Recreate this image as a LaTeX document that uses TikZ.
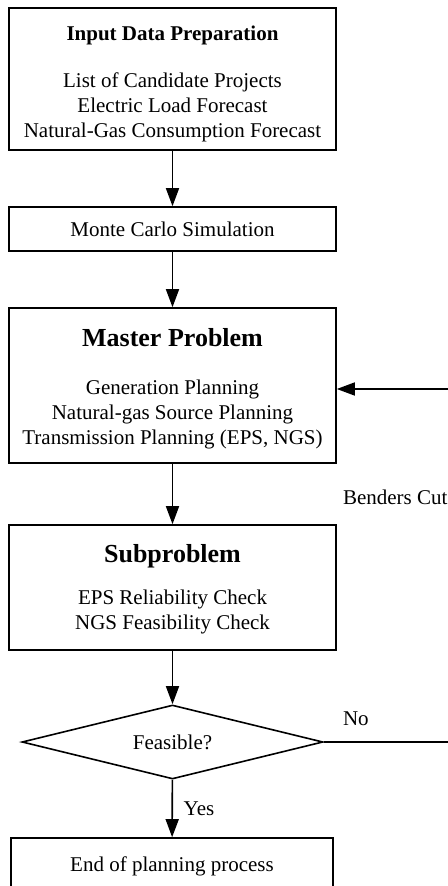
\documentclass[tikz,border=0pt]{standalone}
\usepackage{fontspec}
\setmainfont{Liberation Serif}
\usetikzlibrary{shapes.geometric,arrows.meta}
\newcommand{\boxtitle}[3]{\rule{0pt}{#2}\textbf{#1}\\[#3]}
\newcommand{\bigtitle}[3]{\rule{0pt}{#2}{\fontsize{13}{15}\selectfont\textbf{#1}}\\[#3]}
\tikzset{
	stepbox/.style={draw,line width=0.8pt,minimum width=163.5pt,align=center,inner sep=0pt},
	decision/.style={draw,diamond,aspect=4,line width=0.8pt,minimum width=150.5pt,minimum height=37pt,inner sep=0pt},
	flow/.style={line width=0.8pt,-{Triangle[length=9pt,width=6.5pt]}},
}

\begin{document}
\begin{tikzpicture}[x=0.5pt,y=-0.5pt,font=\fontsize{10.5}{12.5}\selectfont]
	\useasboundingbox (0,0) rectangle (447,886);
	\node[stepbox,minimum height=71pt] (prep) at (172.5,79) {\boxtitle{Input Data Preparation}{12pt}{11pt}List of Candidate Projects\\Electric Load Forecast\\Natural-Gas Consumption Forecast};
	\node[stepbox,minimum height=22pt] (mc) at (172.5,229) {Monte Carlo Simulation};
	\node[stepbox,minimum height=77.5pt] (master) at (172.5,385.5) {\bigtitle{Master Problem}{12.6pt}{11.5pt}Generation Planning\\Natural-gas Source Planning\\Transmission Planning (EPS, NGS)};
	\node[stepbox,minimum height=62.5pt] (sub) at (172.5,587.5) {\bigtitle{Subproblem}{11.1pt}{8.5pt}EPS Reliability Check\\NGS Feasibility Check};
	\node[decision] (feas) at (172.5,742) {Feasible?};
	\node[stepbox,minimum width=161pt,minimum height=28pt] (stop) at (172,866) {End of planning process};
	\coordinate (fbB) at (452,742);
	\coordinate (fbT) at (452,389);
	\path[flow] (prep) edge (mc) (mc) edge (master) (master) edge (sub) (sub) edge (feas);
	\path[flow] (feas) edge node[right=2pt] {Yes} (stop);
	\draw[flow] (feas.east) -- (fbB) -- (fbT) -- (fbT -| master.east);
	\node[anchor=west] (cut) at (336,497) {Benders Cut};
	\node[anchor=west] (no) at (336,719) {No};
\end{tikzpicture}
\end{document}
